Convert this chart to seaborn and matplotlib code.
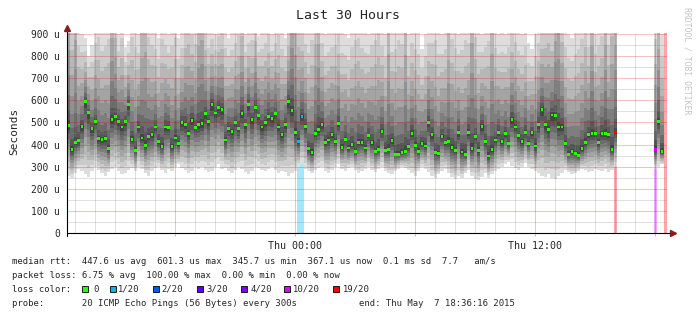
import numpy as np
import pandas as pd
import matplotlib
matplotlib.use("Agg")
import matplotlib.pyplot as plt
from matplotlib.patches import Rectangle
import seaborn as sns

sns.set_theme(style="white")
plt.rcParams["font.family"] = ["DejaVu Sans Mono", "DejaVu Sans"]

nan = np.nan
# ---------------- data (microseconds, 10-minute slots from Wed 12:36:16) ----------------
median_us = [
    486, 377, 410, 418, 481, 594, 544, 471, 505, 426,
    423, 426, 381, 512, 527, 505, 479, 504, 581, 423,
    374, 479, 430, 396, 438, 444, 479, 415, 392, 479,
    476, 390, 430, 404, 498, 489, 451, 508, 476, 489,
    494, 539, 505, 581, 543, 568, 557, 421, 474, 460,
    498, 471, 541, 489, 581, 513, 568, 531, 479, 498,
    528, 519, 539, 479, 446, 491, 595, 553, 456, 414,
    527, 481, 381, 363, 451, 467, 489, 411, 421, 446,
    415, 494, 388, 423, 384, 399, 369, 411, 411, 384,
    441, 408, 369, 377, 460, 374, 378, 418, 356, 356,
    363, 369, 390, 451, 396, 369, 406, 393, 498, 444,
    363, 359, 438, 408, 415, 386, 374, 453, 366, 356,
    456, 381, 437, 374, 481, 414, 348, 377, 421, 456,
    414, 449, 404, 513, 479, 441, 414, 456, 406, 453,
    393, 491, 558, 489, 467, 534, 531, 479, 479, 404,
    356, 369, 359, 351, 381, 411, 446, 449, 449, 411,
    449, 451, 446, 377, 456,
    nan, nan, nan, nan, nan, nan, nan, nan, nan, nan, nan,
    377, 505, 369, nan,
]
low_us = [
    260, 250, 270, 290, 280, 265, 255, 280, 300, 285,
    270, 260, 275, 290, 300, 280, 265, 270, 285, 295,
    280, 300, 290, 270, 260, 280, 295, 300, 285, 270,
    290, 280, 300, 310, 295, 285, 270, 280, 300, 290,
    300, 285, 275, 280, 300, 310, 290, 295, 280, 270,
    285, 300, 290, 275, 265, 280, 300, 295, 285, 280,
    290, 300, 285, 270, 280, 275, 260, 270, 280, 300,
    310, 290, 280, 270, 285, 295, 300, 280, 270, 285,
    300, 310, 290, 280, 295, 300, 285, 270, 280, 290,
    300, 285, 275, 290, 300, 280, 270, 265, 280, 290,
    300, 295, 285, 270, 260, 280, 300, 290, 275, 260,
    250, 265, 280, 290, 270, 255, 245, 260, 250, 270,
    285, 260, 245, 240, 255, 270, 250, 265, 280, 290,
    300, 310, 320, 305, 295, 285, 300, 315, 300, 290,
    280, 270, 260, 255, 265, 250, 245, 260, 270, 285,
    275, 265, 270, 280, 290, 285, 275, 280, 290, 285,
    280, 290, 275, 285, 300,
    nan, nan, nan, nan, nan, nan, nan, nan, nan, nan, nan,
    290, 300, 310, nan,
]
high_us = [
    1500, 1100, 1400, 950, 900, 880, 800, 850, 950, 1000,
    920, 950, 1000, 1300, 1100, 900, 980, 840, 870, 1000,
    960, 900, 1200, 1300, 1000, 950, 920, 880, 1000, 940,
    900, 960, 1000, 880, 920, 1050, 1100, 990, 950, 1250,
    1300, 1000, 920, 950, 900, 970, 1000, 940, 880, 920,
    950, 1000, 1100, 900, 930, 960, 1050, 890, 920, 950,
    990, 900, 940, 1000, 930, 880, 1000, 1400, 1200, 1100,
    1000, 950, 920, 1000, 1100, 1300, 950, 900, 920, 940,
    960, 1000, 920, 900, 880, 950, 1000, 1000, 940, 920,
    900, 960, 1000, 1050, 940, 900, 1300, 920, 950, 1000,
    980, 1300, 900, 960, 940, 920, 830, 900, 950, 960,
    1000, 920, 900, 940, 1200, 1000, 950, 900, 940, 1000,
    960, 1400, 1000, 930, 900, 950, 1000, 1300, 940, 900,
    920, 900, 950, 1000, 960, 920, 900, 940, 860, 830,
    900, 950, 1000, 1050, 1100, 1000, 1250, 1400, 1100, 950,
    900, 880, 920, 950, 1000, 1100, 940, 1300, 900, 960,
    1000, 1300, 950, 1200, 1300,
    nan, nan, nan, nan, nan, nan, nan, nan, nan, nan, nan,
    1000, 1200, 900, nan,
]
loss_slot = [69, 70, 164, 176, 179]
loss_count = [1, 1, 19, 10, 20]

loss_levels = [0, 1, 2, 3, 4, 10, 19]
loss_labels = ["0", "1/20", "2/20", "3/20", "4/20", "10/20", "19/20"]
loss_colors = ["#26ff00", "#00b8ff", "#0059ff", "#5e00ff", "#7e00ff", "#dd00ff", "#ff0000"]

y_ticks = [0, 100, 200, 300, 400, 500, 600, 700, 800, 900]
y_ticklabels = ["0", "100 u", "200 u", "300 u", "400 u", "500 u", "600 u", "700 u", "800 u", "900 u"]
x_major = [-6, 0, 6, 12, 18]
x_majorlabels = ["", "Thu 00:00", "", "Thu 12:00", ""]

# ---------------- geometry helpers ----------------
W, H = 697, 321
STEP = 1.0 / 6.0
T0 = -(11 + 23 / 60 + 44 / 3600)
YMAX = 904.5


def fx(px):
    return px / W


def fy(py):
    return 1 - py / H


def bucket(c):
    b = 0
    for lv in loss_levels:
        if c >= lv:
            b = lv
    return b


med = np.array(median_us, dtype=float)
lo = np.array(low_us, dtype=float)
hi = np.array(high_us, dtype=float)
n = len(med)
t_left = T0 + np.arange(n) * STEP
t_mid = t_left + STEP / 2

# 20 sorted pings per slot reconstructed from low / median / high
k_up = (np.arange(11, 21) - 10.5) / 9.5
k_lo = (10.5 - np.arange(1, 11)) / 9.5
pings = np.zeros((n, 20))
pings[:, 10:] = med[:, None] + (hi - med)[:, None] * k_up[None, :] ** 2.0
pings[:, :10] = med[:, None] - (med - lo)[:, None] * k_lo[None, :] ** 1.3

fig = plt.figure(figsize=(W / 100, H / 100), dpi=100)
fig.patch.set_facecolor("white")
ax = fig.add_axes([fx(67), fy(233), 600 / W, 200 / H])
ax.set_facecolor("white")
ax.set_xlim(T0, T0 + 30)
ax.set_ylim(0, YMAX)

# loss bars (full height, below smoke)
cmap = dict(zip(loss_levels, loss_colors))
for s, c in zip(loss_slot, loss_count):
    col = np.array(matplotlib.colors.to_rgb(cmap[bucket(c)]))
    light = 1 - 0.35 * (1 - col)
    ax.bar(t_left[s], YMAX, width=STEP, align="edge", color=light, linewidth=0, zorder=1)

# smoke
valid = ~np.isnan(med)
segs = []
i = 0
while i < n:
    if valid[i]:
        j = i
        while j < n and valid[j]:
            j += 1
        segs.append((i, j))
        i = j
    else:
        i += 1

for layer in range(10):
    g = int(190 / 10 * (10 - (layer + 1))) + 50
    color = "#%02x%02x%02x" % (g, g, g)
    for a, b in segs:
        xs = np.append(t_left[a:b], t_left[b - 1] + STEP)
        y1 = np.append(pings[a:b, layer], pings[b - 1, layer])
        y2 = np.append(pings[a:b, 19 - layer], pings[b - 1, 19 - layer])
        ax.fill_between(xs, y1, y2, step="post", color=color, linewidth=0, zorder=2)

# grid on top
hours = np.arange(np.ceil(T0), np.floor(T0 + 30) + 1)
minor_h = [h for h in hours if h % 6 != 0]
major_h = [h for h in hours if h % 6 == 0]
ax.vlines(minor_h, 0, YMAX, colors=[(0.5, 0.5, 0.5, 0.25)], linewidth=0.72, zorder=4)
ax.hlines(np.arange(50, 900, 100), T0, T0 + 30, colors=[(0.5, 0.5, 0.5, 0.25)], linewidth=0.72, zorder=4)
ax.vlines(major_h, 0, YMAX, colors=[(0.85, 0.0, 0.0, 0.24)], linewidth=0.72, zorder=4)
ax.hlines(y_ticks[1:], T0, T0 + 30, colors=[(0.85, 0.0, 0.0, 0.24)], linewidth=0.72, zorder=4)

# median markers
df = pd.DataFrame({"t": t_mid, "median": med, "loss": 0})
for s, c in zip(loss_slot, loss_count):
    df.loc[s, "loss"] = bucket(c)
df = df.dropna(subset=["median"])
sns.scatterplot(data=df, x="t", y="median", hue="loss", palette=cmap, marker="s", s=4,
                linewidth=0, legend=False, ax=ax, zorder=6)

# axes
for sp in ax.spines.values():
    sp.set_visible(False)
ax.plot([0, 0], [-0.015, 1.02], transform=ax.transAxes, color="black", lw=0.8, clip_on=False, zorder=7)
ax.plot([0, 1.008], [0, 0], transform=ax.transAxes, color="black", lw=0.8, clip_on=False, zorder=7)
ax.plot([0], [1.025], marker="^", ms=4, color="#8b1c1c", transform=ax.transAxes, clip_on=False, zorder=8)
ax.plot([1.01], [0], marker=">", ms=4, color="#8b1c1c", transform=ax.transAxes, clip_on=False, zorder=8)

ax.set_xticks(x_major)
ax.set_xticklabels(x_majorlabels)
ax.tick_params(axis="x", length=2.5, width=0.72, color=(0.93, 0.7, 0.7), pad=3, labelsize=7.2,
               direction="out", bottom=True)
ax.set_yticks(y_ticks)
ax.set_yticklabels(y_ticklabels)
ax.tick_params(axis="y", length=0, pad=5, labelsize=6.9, left=True)
ax.set_xlabel("")
ax.set_ylabel("")
ax.grid(False)

fig.text(fx(14), fy(131), "Seconds", rotation=90, ha="center", va="center", fontsize=8)
fig.text(fx(348.3), fy(15.5), "Last 30 Hours", ha="center", va="center", fontsize=9.5)
fig.text(fx(687), fy(61), "RRDTOOL / TOBI OETIKER", rotation=270, ha="center", va="center",
         fontsize=5.9, color="#c4c4c4")

fs = 6.4
fig.text(fx(12.3), fy(261),
         "median rtt:  447.6 us avg  601.3 us max  345.7 us min  367.1 us now  0.1 ms sd  7.7   am/s",
         ha="left", va="center", fontsize=fs)
fig.text(fx(12.3), fy(275.5), "packet loss: 6.75 % avg  100.00 % max  0.00 % min  0.00 % now",
         ha="left", va="center", fontsize=fs)
fig.text(fx(12.3), fy(289), "loss color:", ha="left", va="center", fontsize=fs)
box_x = [81.7, 110, 153, 197, 240.7, 284, 333]
lab_x = [93, 118.3, 161.7, 206.7, 250, 293.3, 342.7]
for bx, lx, lab, col in zip(box_x, lab_x, loss_labels, loss_colors):
    fig.add_artist(Rectangle((fx(bx), fy(292.3)), 6 / W, 6 / H, transform=fig.transFigure,
                             facecolor=col, edgecolor="black", linewidth=0.6))
    fig.text(fx(lx), fy(289), lab, ha="left", va="center", fontsize=fs)
fig.text(fx(12.3), fy(303), "probe:       20 ICMP Echo Pings (56 Bytes) every 300s",
         ha="left", va="center", fontsize=fs)
fig.text(fx(359), fy(303), "end: Thu May  7 18:36:16 2015", ha="left", va="center", fontsize=fs)

fig.savefig("out.png", dpi=100, facecolor="white")
